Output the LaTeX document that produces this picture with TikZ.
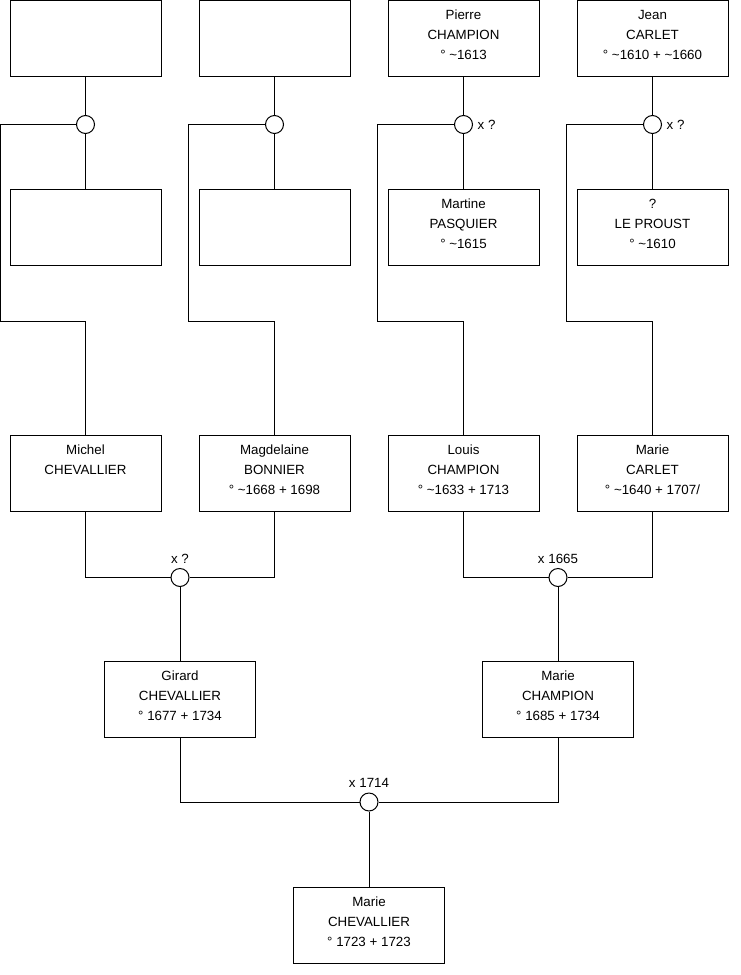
\documentclass[tikz,border=0pt]{standalone}
\usepackage{fontspec}
\setmainfont{Liberation Sans}
\usetikzlibrary{positioning,calc}

\begin{document}
\begin{tikzpicture}[
  x=0.75pt, y=-0.75pt,
  node distance=84pt and 27.75pt,
  person/.style={
    rectangle,
    draw,
    align=center,
    minimum width=113.25pt,
    minimum height=57pt,
    inner sep=0pt,
    text height=36.5pt,
    text depth=4.5pt,
    line width=0.75pt,
    font=\fontsize{10}{15}\selectfont
  },
  wed/.style={
    circle,
    draw,
    fill=white,
    minimum size=13.5pt,
    inner sep=0pt,
    line width=0.75pt
  },
  link/.style={line width=0.75pt},
  every label/.append style={font=\fontsize{10}{12}\selectfont}
]
\useasboundingbox (0,0) rectangle (740,975);

% great-grandparents
\node[person] (top1) at (85.5,38) {};
\node[person, right=of top1] (top2) {};
\node[person, right=of top2] (pierre) {Pierre\\CHAMPION\\° \textasciitilde1613};
\node[person, right=of pierre] (jean) {Jean\\CARLET\\° \textasciitilde1610 + \textasciitilde1660};

\node[person, below=of top1] (mid1) {};
\node[person, below=of top2] (mid2) {};
\node[person, below=of pierre] (martine) {Martine\\PASQUIER\\° \textasciitilde1615};
\node[person, below=of jean] (proust) {?\\LE PROUST\\° \textasciitilde1610};

\node[wed] (w1) at ($(top1.south)+(0,48)$) {};
\node[wed] (w2) at ($(top2.south)+(0,48)$) {};
\node[wed, label=right:x ?] (w3) at ($(pierre.south)+(0,48)$) {};
\node[wed, label=right:x ?] (w4) at ($(jean.south)+(0,48)$) {};

% grandparents
\node[person, below=126.75pt of mid1] (michel) {Michel\\CHEVALLIER\\\mbox{}};
\node[person, below=126.75pt of mid2] (magd) {Magdelaine\\BONNIER\\° \textasciitilde1668 + 1698};
\node[person, below=126.75pt of martine] (louis) {Louis\\CHAMPION\\° \textasciitilde1633 + 1713};
\node[person, below=126.75pt of proust] (marie) {Marie\\CARLET\\° \textasciitilde1640 + 1707/};

\node[wed, label=above:x ?] (w5) at ($(michel.south)!0.5!(magd.south)+(0,66)$) {};
\node[wed, label=above:x 1665] (w6) at ($(louis.south)!0.5!(marie.south)+(0,66)$) {};

% parents
\node[person, below=55.5pt of w5] (girard) {Girard\\CHEVALLIER\\° 1677 + 1734};
\node[person, below=55.5pt of w6] (mariech) {Marie\\CHAMPION\\° 1685 + 1734};

\node[wed, label=above:x 1714] (w7) at ($(girard.south)!0.5!(mariech.south)+(0,64)$) {};

\node[person, below=56.25pt of w7] (child) {Marie\\CHEVALLIER\\° 1723 + 1723};

\draw[link] (top1) -- (w1) -- (mid1);
\draw[link] (top2) -- (w2) -- (mid2);
\draw[link] (pierre) -- (w3) -- (martine);
\draw[link] (jean) -- (w4) -- (proust);

\draw[link] (w1.west) -| ([xshift=-7pt]mid1.south west) -- ++(0,56) -| (michel);
\draw[link] (w2.west) -| ([xshift=-7.5pt]mid2.south west) -- ++(0,56) -| (magd);
\draw[link] (w3.west) -| ([xshift=-7.5pt]martine.south west) -- ++(0,56) -| (louis);
\draw[link] (w4.west) -| ([xshift=-7.5pt]proust.south west) -- ++(0,56) -| (marie);

\draw[link] (michel) |- (w5);
\draw[link] (magd) |- (w5);
\draw[link] (w5) -- (girard);
\draw[link] (louis) |- (w6);
\draw[link] (marie) |- (w6);
\draw[link] (w6) -- (mariech);

\draw[link] (girard) |- (w7);
\draw[link] (mariech) |- (w7);
\draw[link] (w7) -- (child);
\end{tikzpicture}
\end{document}
